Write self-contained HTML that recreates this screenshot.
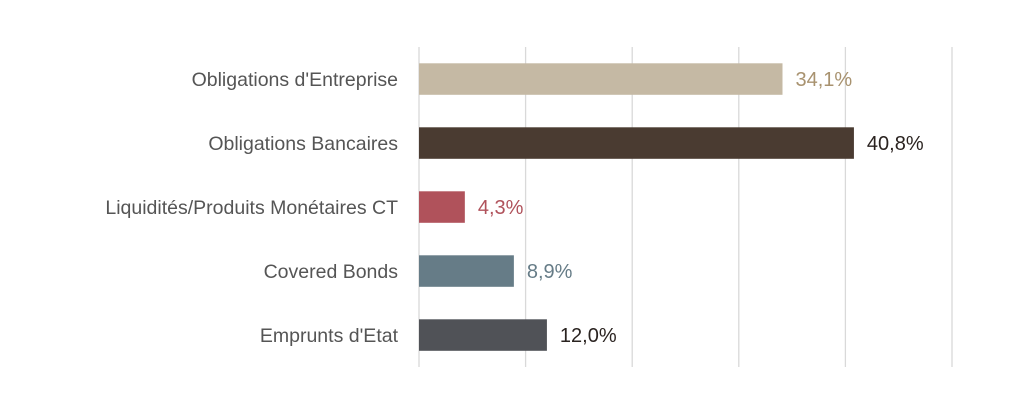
<!DOCTYPE html>
<html><head><meta charset="utf-8"><style>
body{margin:0;background:#fff;}
svg text{font-family:"Liberation Sans",sans-serif;}
</style></head><body>
<svg width="1022" height="405" id="c"></svg>
<script>
const categories=["Obligations d'Entreprise","Obligations Bancaires","Liquidités/Produits Monétaires CT","Covered Bonds","Emprunts d'Etat"];
const values=[34.1,40.8,4.3,8.9,12.0];
const valueLabels=["34,1%","40,8%","4,3%","8,9%","12,0%"];
const barColors=["#c5b9a4","#4a3b31","#b0525b","#667c87","#505257"];
const labelColors=["#a8926f","#2a2320","#b0525b","#667c87","#2a2320"];
const ticks=[0,10,20,30,40,50];
const svg=document.getElementById('c');const NS="http://www.w3.org/2000/svg";
const x0=419,k=10.66,y0=63.3,pitch=64,bh=31.5;
const X=v=>x0+v*k;
function mk(t,a){const e=document.createElementNS(NS,t);for(const n in a)e.setAttribute(n,a[n]);svg.appendChild(e);return e;}
ticks.forEach(t=>{const l=mk('line',{x1:X(t),x2:X(t),y1:47,y2:367,stroke:'#d9d9d9','stroke-width':1.3});

});
categories.forEach((c,i)=>{const y=y0+i*pitch;
const r=mk('rect',{x:x0,y:y,width:values[i]*k,height:bh,fill:barColors[i]});


const t=mk('text',{x:X(values[i])+13,y:y+bh/2+7,'font-size':20,fill:labelColors[i]});t.textContent=valueLabels[i];


const ct=mk('text',{x:398,y:y+bh/2+7,'font-size':19.5,fill:'#555','text-anchor':'end'});ct.textContent=c;

});
</script></body></html>
